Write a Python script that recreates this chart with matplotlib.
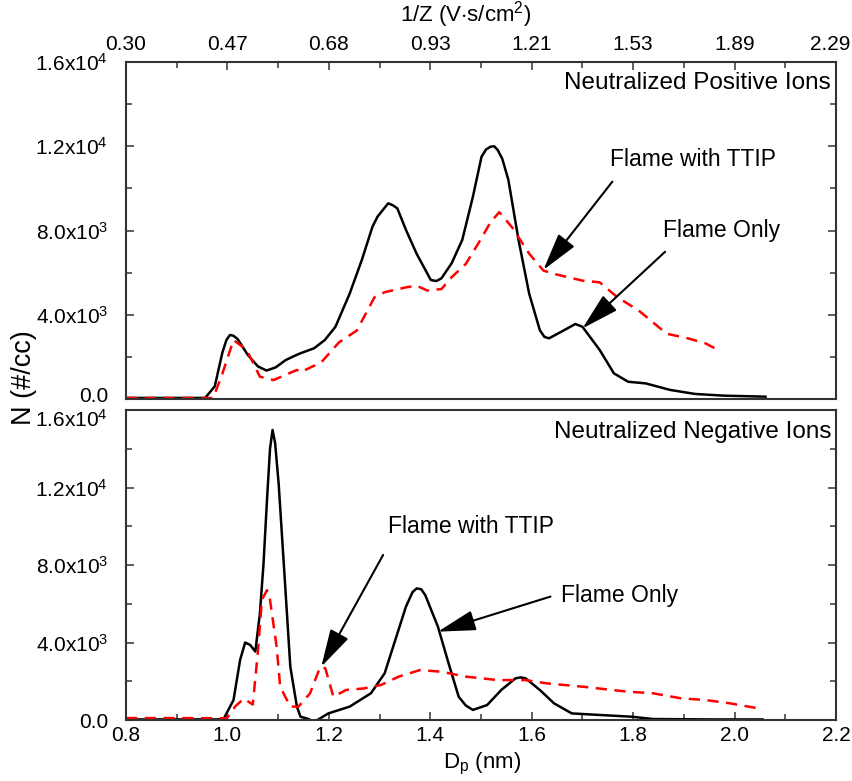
import numpy as np
import matplotlib
matplotlib.use("Agg")
import matplotlib.pyplot as plt
from matplotlib.ticker import FixedLocator, MultipleLocator, FixedFormatter
from matplotlib.transforms import ScaledTranslation

plt.rcParams['font.family'] = ['Liberation Sans', 'DejaVu Sans']
plt.rcParams['mathtext.fontset'] = 'custom'
plt.rcParams['mathtext.rm'] = 'Liberation Sans'
plt.rcParams['mathtext.it'] = 'Liberation Sans:italic'

# ---- data, N in units of 1e3 #/cc ----
# Neutralized positive ions
pos_only_d = [0.80, 0.90, 0.956, 0.975, 0.99, 0.998, 1.005, 1.012, 1.02, 1.04, 1.06, 1.077,
              1.095, 1.115, 1.137, 1.144, 1.171, 1.192, 1.213, 1.241, 1.265, 1.286, 1.296,
              1.317, 1.326, 1.335, 1.352, 1.373, 1.401, 1.412, 1.422, 1.442, 1.463, 1.484,
              1.501, 1.510, 1.519, 1.526, 1.533, 1.542, 1.554, 1.574, 1.595, 1.616, 1.625,
              1.634, 1.658, 1.686, 1.700, 1.734, 1.762, 1.790, 1.825, 1.873, 1.922, 1.978,
              2.061]
pos_only_n = [0.05, 0.05, 0.05, 0.6, 2.2, 2.8, 3.04, 3.0, 2.85, 2.1, 1.55, 1.35,
              1.5, 1.85, 2.1, 2.17, 2.41, 2.80, 3.43, 5.0, 6.6, 8.18, 8.66,
              9.29, 9.2, 9.05, 8.03, 6.9, 5.65, 5.6, 5.73, 6.44, 7.55, 9.6,
              11.5, 11.85, 11.98, 12.0, 11.82, 11.4, 10.4, 7.55, 5.0, 3.27, 2.95,
              2.88, 3.19, 3.56, 3.43, 2.33, 1.22, 0.82, 0.74, 0.43, 0.24, 0.16,
              0.11]

pos_ttip_d = [0.80, 0.90, 0.972, 0.99, 1.012, 1.038, 1.064, 1.091, 1.137, 1.144, 1.185,
              1.220, 1.255, 1.290, 1.310, 1.352, 1.373, 1.394, 1.422, 1.442, 1.470, 1.498,
              1.519, 1.536, 1.561, 1.595, 1.623, 1.644, 1.700, 1.734, 1.769, 1.811, 1.866,
              1.908, 1.943, 1.967]
pos_ttip_n = [0.05, 0.05, 0.05, 1.2, 2.8, 2.33, 1.06, 0.9, 1.38, 1.27, 1.74,
              2.69, 3.25, 4.83, 5.07, 5.3, 5.38, 5.15, 5.22, 5.78, 6.41, 7.52,
              8.4, 8.87, 8.16, 6.9, 6.1, 5.94, 5.62, 5.54, 4.83, 4.2, 3.1,
              2.88, 2.64, 2.33]

# Neutralized negative ions
neg_only_d = [0.80, 0.90, 0.992, 1.012, 1.025, 1.035, 1.045, 1.055, 1.064, 1.071, 1.078,
              1.084, 1.089, 1.094, 1.101, 1.114, 1.124, 1.137, 1.144, 1.160, 1.171, 1.199,
              1.241, 1.283, 1.310, 1.331, 1.352, 1.365, 1.373, 1.382, 1.390, 1.415, 1.436,
              1.456, 1.470, 1.484, 1.512, 1.540, 1.568, 1.578, 1.588, 1.616, 1.644, 1.679,
              1.734, 1.797, 1.839, 1.950, 2.055]
neg_only_n = [0.03, 0.03, 0.03, 1.03, 3.1, 4.0, 3.87, 3.53, 5.5, 8.0, 11.35,
              14.0, 14.97, 14.3, 12.2, 6.88, 2.75, 0.69, 0.17, 0.05, -0.1, 0.34,
              0.69, 1.38, 2.41, 4.13, 5.85, 6.6, 6.79, 6.75, 6.45, 4.82, 2.93,
              1.2, 0.75, 0.52, 0.77, 1.55, 2.15, 2.2, 2.15, 1.55, 0.86, 0.34,
              0.26, 0.17, 0.05, 0.03, 0.03]

neg_ttip_d = [0.80, 0.90, 0.999, 1.015, 1.032, 1.050, 1.060, 1.068, 1.078, 1.084, 1.097,
              1.104, 1.124, 1.140, 1.163, 1.183, 1.193, 1.209, 1.234, 1.269, 1.303, 1.338,
              1.380, 1.422, 1.470, 1.533, 1.588, 1.630, 1.700, 1.790, 1.839, 1.894, 1.943,
              1.991, 2.047]
neg_ttip_n = [0.1, 0.1, 0.09, 0.69, 1.1, 0.8, 3.5, 6.2, 6.7, 6.19, 3.78,
              1.72, 0.69, 0.69, 1.38, 2.75, 2.67, 1.2, 1.55, 1.63, 1.81, 2.24,
              2.58, 2.49, 2.24, 2.06, 2.06, 1.89, 1.72, 1.46, 1.38, 1.12, 1.03,
              0.86, 0.6]

x_major = [0.8, 1.0, 1.2, 1.4, 1.6, 1.8, 2.0, 2.2]
x_labels = ['0.8', '1.0', '1.2', '1.4', '1.6', '1.8', '2.0', '2.2']
top_labels = ['0.30', '0.47', '0.68', '0.93', '1.21', '1.53', '1.89', '2.29']
y_major = [0, 4000, 8000, 12000, 16000]
y_labels = ['0.0', r'4.0x10$^{3}$', r'8.0x10$^{3}$', r'1.2x10$^{4}$', r'1.6x10$^{4}$']

fig = plt.figure(figsize=(8.52, 7.81), dpi=100)
ax1 = fig.add_axes([126 / 852, 1 - 399 / 781, 710 / 852, 337 / 781])
ax2 = fig.add_axes([126 / 852, 1 - 720 / 781, 710 / 852, 310 / 781])

ax1.plot(pos_only_d, np.array(pos_only_n) * 1000, color='black', lw=1.8)
ax1.plot(pos_ttip_d, np.array(pos_ttip_n) * 1000, color='red', lw=1.8, dashes=(4.5, 3))
ax2.plot(neg_only_d, np.array(neg_only_n) * 1000, color='black', lw=1.8)
ax2.plot(neg_ttip_d, np.array(neg_ttip_n) * 1000, color='red', lw=1.8, dashes=(4.5, 3))

for ax in (ax1, ax2):
    ax.set_xlim(0.8, 2.2)
    ax.set_ylim(0, 16000)
    ax.yaxis.set_major_locator(FixedLocator(y_major))
    ax.yaxis.set_major_formatter(FixedFormatter(y_labels))
    ax.yaxis.set_minor_locator(MultipleLocator(2000))
    ax.xaxis.set_major_locator(FixedLocator(x_major))
    ax.xaxis.set_minor_locator(MultipleLocator(0.1))
    for s in ax.spines.values():
        s.set_linewidth(1.5)
        s.set_color('#333333')
    ax.tick_params(which='both', direction='in', width=1.1, color='#333333', labelsize=15)
    ax.tick_params(which='major', length=6)
    ax.tick_params(which='minor', length=4)
    ax.tick_params(axis='y', which='both', left=True, right=True, pad=13)

ax1.xaxis.set_major_formatter(FixedFormatter(top_labels))
ax1.tick_params(axis='x', which='both', top=True, bottom=False, labeltop=True, labelbottom=False, pad=6)
ax2.xaxis.set_major_formatter(FixedFormatter(x_labels))
ax2.tick_params(axis='x', which='both', top=False, bottom=True, pad=4)

arrow = dict(arrowstyle='-|>,head_length=1.3,head_width=0.35', color='black', lw=1.5,
             mutation_scale=18, shrinkA=0, shrinkB=0)
fs = 16.5

ax1.text(0.993, 0.938, 'Neutralized Positive Ions', transform=ax1.transAxes,
         ha='right', va='center', fontsize=17.5)
ax1.text(1.755, 11350, 'Flame with TTIP', ha='left', va='center', fontsize=fs)
ax1.annotate('', xy=(1.623, 6130), xytext=(1.759, 10320), arrowprops=arrow)
ax1.text(1.859, 8020, 'Flame Only', ha='left', va='center', fontsize=fs)
ax1.annotate('', xy=(1.700, 3350), xytext=(1.863, 6990), arrowprops=arrow)

ax2.text(0.993, 0.93, 'Neutralized Negative Ions', transform=ax2.transAxes,
         ha='right', va='center', fontsize=17.5)
ax2.text(1.317, 9980, 'Flame with TTIP', ha='left', va='center', fontsize=fs)
ax2.annotate('', xy=(1.185, 2750), xytext=(1.307, 8520), arrowprops=arrow)
ax2.text(1.658, 6450, 'Flame Only', ha='left', va='center', fontsize=fs)
ax2.annotate('', xy=(1.415, 4560), xytext=(1.637, 6370), arrowprops=arrow)

fig.text(24 / 852, 1 - 378 / 781, 'N (#/cc)', rotation=90, ha='center', va='center', fontsize=19.5)
fig.text(482 / 852, 1 - 768 / 781, r'D$_\mathregular{p}$ (nm)', ha='center', va='baseline', fontsize=16)
fig.text(466 / 852, 1 - 21 / 781, r'1/Z (V$\cdot$s/cm$^\mathregular{2}$)', ha='center', va='baseline', fontsize=16)

# small nudges: last top label stays inside the figure, the two labels at the
# panel join are pulled apart a little
fig.canvas.draw()
def nudge(lbl, dx, dy):
    lbl.set_transform(lbl.get_transform() + ScaledTranslation(dx / 100, dy / 100, fig.dpi_scale_trans))

nudge(ax1.xaxis.get_majorticklabels()[-1], -6, 0)
nudge(ax1.yaxis.get_majorticklabels()[0], 0, 5)
nudge(ax2.yaxis.get_majorticklabels()[-1], 0, -8)

fig.savefig('out.png', dpi=100)
